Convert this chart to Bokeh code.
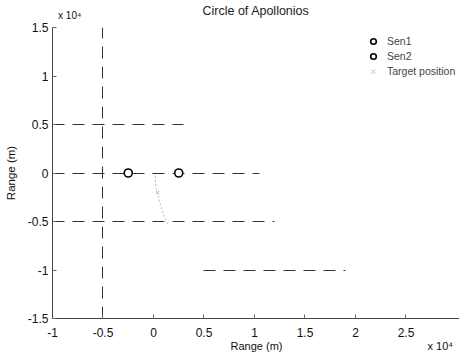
from bokeh.plotting import figure
from bokeh.models import (Range1d, FixedTicker, Grid, Legend, LegendItem, LinearAxis)
from bokeh.embed import file_html
from bokeh.resources import INLINE

# data (units: x 10^4 m)
sen1_x = [-0.25]
sen1_y = [0.0]
sen2_x = [0.25]
sen2_y = [0.0]
target_x = [0.04]
target_y = [-0.2]
arc_x = [0.02, 0.02, 0.03, 0.07, 0.10, 0.14]
arc_y = [-0.03, -0.10, -0.17, -0.33, -0.43, -0.53]
x_ticks = [-1, -0.5, 0, 0.5, 1, 1.5, 2, 2.5]
y_ticks = [-1.5, -1, -0.5, 0, 0.5, 1, 1.5]
title_text = "Circle of Apollonios"
exponent_text = "x 10\u2074"
axis_text = "Range (m)"

FONT = "Liberation Sans"

p = figure(width=459, height=360, output_backend="svg", toolbar_location=None,
           x_range=Range1d(-1, 3.03), y_range=Range1d(-1.5, 1.5),
           min_border_left=52, min_border_right=0, min_border_top=27,
           min_border_bottom=42)
p.outline_line_color = None
p.background_fill_color = "white"
p.border_fill_color = "white"
p.grid.visible = False

for ax in (p.xaxis[0], p.yaxis[0]):
    ax.axis_line_color = "#444444"
    ax.axis_line_width = 1
    ax.major_tick_in = 4
    ax.major_tick_out = 0
    ax.minor_tick_line_color = None
    ax.major_tick_line_color = "#666666"
    ax.major_label_text_font = FONT
    ax.major_label_text_font_size = "12px"
    ax.major_label_text_color = "#111111"

p.xaxis.ticker = FixedTicker(ticks=x_ticks)
p.yaxis.ticker = FixedTicker(ticks=y_ticks)
p.xaxis.major_label_overrides = {-1: "-1", -0.5: "-0.5", 0: "0", 0.5: "0.5", 1: "1",
                                  1.5: "1.5", 2: "2", 2.5: "2.5"}
p.yaxis.major_label_overrides = {-1.5: "-1.5", -1: "-1", -0.5: "-0.5", 0: "0",
                                  0.5: "0.5", 1: "1", 1.5: "1.5"}
p.xaxis.major_label_standoff = 9
p.yaxis.major_label_standoff = 4
p.yaxis.axis_label = axis_text
p.yaxis.axis_label_text_font = FONT
p.yaxis.axis_label_text_font_size = "11.5px"
p.yaxis.axis_label_text_font_style = "normal"
p.yaxis.axis_label_text_color = "#111111"
p.yaxis.axis_label_standoff = 8

# title row: exponent note as a tick label, title as the axis label of a bare top axis
top_row = LinearAxis(ticker=FixedTicker(ticks=[-0.83]),
                     major_label_overrides={-0.83: exponent_text},
                     axis_line_color=None, major_tick_line_color=None,
                     minor_tick_line_color=None, major_label_standoff=1,
                     major_label_text_font=FONT, major_label_text_font_size="10px",
                     major_label_text_color="#111111",
                     axis_label=title_text, axis_label_standoff=-11,
                     axis_label_text_font=FONT, axis_label_text_font_size="12.5px",
                     axis_label_text_font_style="normal",
                     axis_label_text_color="#222222")
p.add_layout(top_row, "above")

# bottom row: x axis title and exponent note on one line
bot_row = LinearAxis(ticker=FixedTicker(ticks=[1.02, 2.84]),
                     major_label_overrides={1.02: axis_text, 2.84: exponent_text},
                     axis_line_color=None, major_tick_line_color=None,
                     minor_tick_line_color=None, major_label_standoff=-6,
                     major_label_text_font=FONT, major_label_text_font_size="11px",
                     major_label_text_color="#111111")
p.add_layout(bot_row, "below")

# faded dashed grid pieces as seen in the scan
grid_specs = [
    (1, [0.5], (-1, 0.3)),
    (1, [0.0], (-1, 1.05)),
    (1, [-0.5], (-1, 1.2)),
    (1, [-1.0], (0.5, 1.9)),
    (0, [-0.5], (-1.5, 1.5)),
]
for dim, t, b in grid_specs:
    g = Grid(dimension=dim, ticker=FixedTicker(ticks=t), cross_bounds=b,
             grid_line_color="#333333", grid_line_dash="12 8", grid_line_width=1)
    p.add_layout(g)

arc = p.line(arc_x, arc_y, line_color="#bbbbbb", line_dash="2 2", line_width=1)
r1 = p.scatter(sen1_x, sen1_y, marker="circle", size=8, line_color="black",
               fill_color="white", line_width=1.6)
r2 = p.scatter(sen2_x, sen2_y, marker="circle", size=8, line_color="black",
               fill_color="white", line_width=1.6)
rt = p.scatter(target_x, target_y, marker="x", size=5, line_color="#bbbbbb",
               line_width=1)

legend = Legend(items=[LegendItem(label="Sen1", renderers=[r1]),
                       LegendItem(label="Sen2", renderers=[r2]),
                       LegendItem(label="Target position", renderers=[rt])],
                background_fill_alpha=0, border_line_color=None,
                label_text_font=FONT, label_text_font_size="10.5px",
                label_height=14, glyph_height=14, glyph_width=16, spacing=1,
                padding=2, margin=0, label_standoff=6)
legend.location = (313, 240)
p.add_layout(legend)

open("out.html", "w").write(file_html(p, INLINE))
